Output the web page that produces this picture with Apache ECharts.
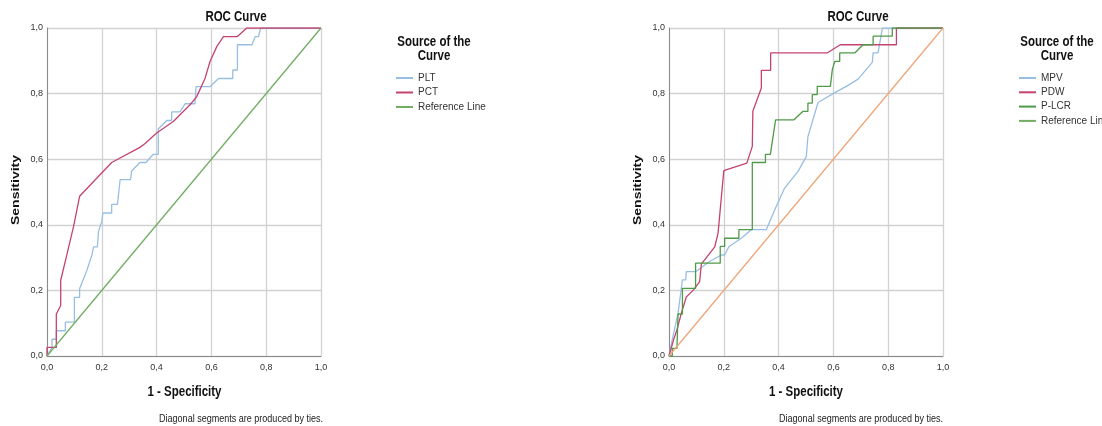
<!DOCTYPE html>
<html>
<head>
<meta charset="utf-8">
<script src="https://cdn.jsdelivr.net/npm/echarts@6/dist/echarts.min.js"></script>
<style>
html,body{margin:0;padding:0;background:#fff;}
#chart{width:1102px;height:426px;}
</style>
</head>
<body>
<div id="chart"></div>
<script>
// ---- data (1 - Specificity, Sensitivity) ----
var pltData = [[0,0],[0.018,0.026],[0.018,0.051],[0.034,0.051],[0.034,0.077],[0.067,0.077],[0.067,0.103],[0.1,0.103],[0.1,0.179],[0.119,0.179],[0.119,0.205],[0.145,0.26],[0.164,0.308],[0.17,0.333],[0.184,0.333],[0.188,0.38],[0.2,0.41],[0.204,0.436],[0.236,0.436],[0.236,0.462],[0.257,0.462],[0.267,0.538],[0.305,0.538],[0.309,0.564],[0.339,0.59],[0.361,0.59],[0.388,0.615],[0.406,0.615],[0.406,0.692],[0.437,0.718],[0.455,0.718],[0.455,0.744],[0.485,0.744],[0.504,0.769],[0.54,0.769],[0.544,0.821],[0.595,0.821],[0.626,0.846],[0.678,0.846],[0.678,0.872],[0.695,0.872],[0.695,0.949],[0.748,0.949],[0.76,0.974],[0.772,0.974],[0.78,1],[1,1]];
var pctData = [[0,0],[0,0.026],[0.034,0.026],[0.034,0.128],[0.05,0.154],[0.05,0.231],[0.07,0.3],[0.097,0.395],[0.119,0.487],[0.236,0.59],[0.339,0.636],[0.357,0.647],[0.4,0.68],[0.461,0.715],[0.522,0.766],[0.546,0.79],[0.577,0.847],[0.595,0.898],[0.62,0.944],[0.644,0.974],[0.695,0.974],[0.729,1],[1,1]];
var refLeftData = [[0,0],[1,1]];
var mpvData = [[0,0],[0.012,0.05],[0.033,0.13],[0.049,0.232],[0.061,0.232],[0.063,0.257],[0.097,0.257],[0.148,0.288],[0.191,0.308],[0.203,0.308],[0.219,0.334],[0.264,0.359],[0.3,0.385],[0.355,0.385],[0.386,0.446],[0.422,0.512],[0.471,0.563],[0.501,0.608],[0.507,0.669],[0.544,0.773],[0.599,0.8],[0.647,0.822],[0.69,0.844],[0.742,0.895],[0.745,0.924],[0.763,0.924],[0.779,1],[1,1]];
var pdwData = [[0,0],[0.017,0.05],[0.029,0.08],[0.045,0.13],[0.063,0.18],[0.088,0.2],[0.112,0.227],[0.118,0.28],[0.167,0.333],[0.179,0.374],[0.2,0.565],[0.284,0.588],[0.304,0.639],[0.306,0.746],[0.337,0.817],[0.337,0.871],[0.371,0.871],[0.371,0.924],[0.577,0.924],[0.625,0.949],[0.83,0.949],[0.83,1],[1,1]];
var plcrData = [[0,0],[0.012,0],[0.012,0.023],[0.029,0.023],[0.033,0.128],[0.049,0.128],[0.049,0.206],[0.097,0.206],[0.097,0.283],[0.187,0.283],[0.187,0.334],[0.203,0.334],[0.203,0.359],[0.255,0.359],[0.255,0.385],[0.304,0.385],[0.304,0.59],[0.352,0.59],[0.352,0.615],[0.37,0.615],[0.389,0.72],[0.456,0.72],[0.489,0.746],[0.507,0.746],[0.507,0.771],[0.523,0.771],[0.523,0.797],[0.541,0.797],[0.541,0.822],[0.589,0.822],[0.596,0.873],[0.605,0.898],[0.623,0.898],[0.623,0.924],[0.678,0.924],[0.708,0.949],[0.745,0.949],[0.745,0.975],[0.815,0.975],[0.815,1],[1,1]];
var refRightData = [[0,0],[1,1]];
var leftNames = ['PLT','PCT','Reference Line'];
var rightNames = ['MPV','PDW','P-LCR','Reference Line'];
var axisMin = 0, axisMax = 1, axisStep = 0.2;

var FONT = '"Liberation Sans", Arial, sans-serif';
var SQ = 0.82; // horizontal squeeze of the original picture's lettering
var C_BLUE = '#98bee3', C_RED = '#c4436f', C_GREEN_L = '#72ad64', C_GREEN_R = '#4f9a47', C_ORANGE = '#eea67a';

function fmt(v){ return v.toFixed(1).replace('.', ','); }
function mkX(idx){
  return {gridIndex: idx, type:'value', min:axisMin, max:axisMax, interval:axisStep,
    axisLine:{show:true, lineStyle:{color:'#8a8a8a', width:1}}, axisTick:{show:false},
    axisLabel:{formatter:fmt, fontSize:9, fontFamily:FONT, color:'#333', margin:7},
    splitLine:{show:true, lineStyle:{color:'#d2d2d2', width:1.3}}};
}
function mkY(idx){
  return {gridIndex: idx, type:'value', min:axisMin, max:axisMax, interval:axisStep,
    axisLine:{show:true, lineStyle:{color:'#8a8a8a', width:1}}, axisTick:{show:false},
    axisLabel:{formatter:fmt, fontSize:9, fontFamily:FONT, color:'#333', margin:4},
    splitLine:{show:true, lineStyle:{color:'#d2d2d2', width:1.3}}};
}
function mkS(name, data, idx, color){
  return {name:name, type:'line', data:data, xAxisIndex:idx, yAxisIndex:idx, showSymbol:false, symbol:'none',
    lineStyle:{color:color, width:1.3}, itemStyle:{color:color}, z: 3};
}
function txt(t, x, y, size, bold, align, rot){
  var el = {type:'text', x:x, y:y, rotation: rot||0, silent:true,
    style:{text:t, fontSize:size, fontWeight: bold?'bold':'normal', fontFamily:FONT, fill: bold?'#111':'#222',
      align:align||'center', verticalAlign:'middle'}};
  if (rot) { el.scaleY = SQ; } else { el.scaleX = SQ; }
  return el;
}

var chart = echarts.init(document.getElementById('chart'), null, {renderer:'canvas'});
chart.setOption({
  animation:false,
  backgroundColor:'#fff',
  grid:[{left:47, top:28, width:274, height:328}, {left:669, top:28, width:274, height:328}],
  xAxis:[mkX(0), mkX(1)],
  yAxis:[mkY(0), mkY(1)],
  legend:[
    {data:leftNames, orient:'vertical', left:391, top:67, itemWidth:17, itemHeight:2, icon:'rect', itemGap:2.5,
     textStyle:{fontSize:10, fontFamily:FONT, color:'#333', lineHeight:12}},
    {data:rightNames, orient:'vertical', left:1014, top:67, itemWidth:17, itemHeight:2, icon:'rect', itemGap:2.3,
     textStyle:{fontSize:10, fontFamily:FONT, color:'#333', lineHeight:12}}
  ],
  graphic:[
    txt('ROC Curve', 236, 17.5, 14, true),
    txt('ROC Curve', 858, 17.5, 14, true),
    txt('Source of the', 434, 42, 14, true),
    txt('Curve', 434, 56, 14, true),
    txt('Source of the', 1057, 42, 14, true),
    txt('Curve', 1057, 56, 14, true),
    txt('1 - Specificity', 184.5, 392, 14, true),
    txt('1 - Specificity', 806, 392, 14, true),
    txt('Sensitivity', 16, 190, 14, true, 'center', Math.PI/2),
    txt('Sensitivity', 638, 190, 14, true, 'center', Math.PI/2),
    txt('Diagonal segments are produced by ties.', 323, 419, 11, false, 'right'),
    txt('Diagonal segments are produced by ties.', 943, 419, 11, false, 'right')
  ],
  series:[
    mkS('PLT', pltData, 0, C_BLUE),
    mkS('PCT', pctData, 0, C_RED),
    mkS('Reference Line', refLeftData, 0, C_GREEN_L),
    mkS('MPV', mpvData, 1, C_BLUE),
    mkS('PDW', pdwData, 1, C_RED),
    mkS('P-LCR', plcrData, 1, C_GREEN_R),
    mkS('Reference Line', refRightData, 1, C_ORANGE)
  ]
});
</script>
</body>
</html>
